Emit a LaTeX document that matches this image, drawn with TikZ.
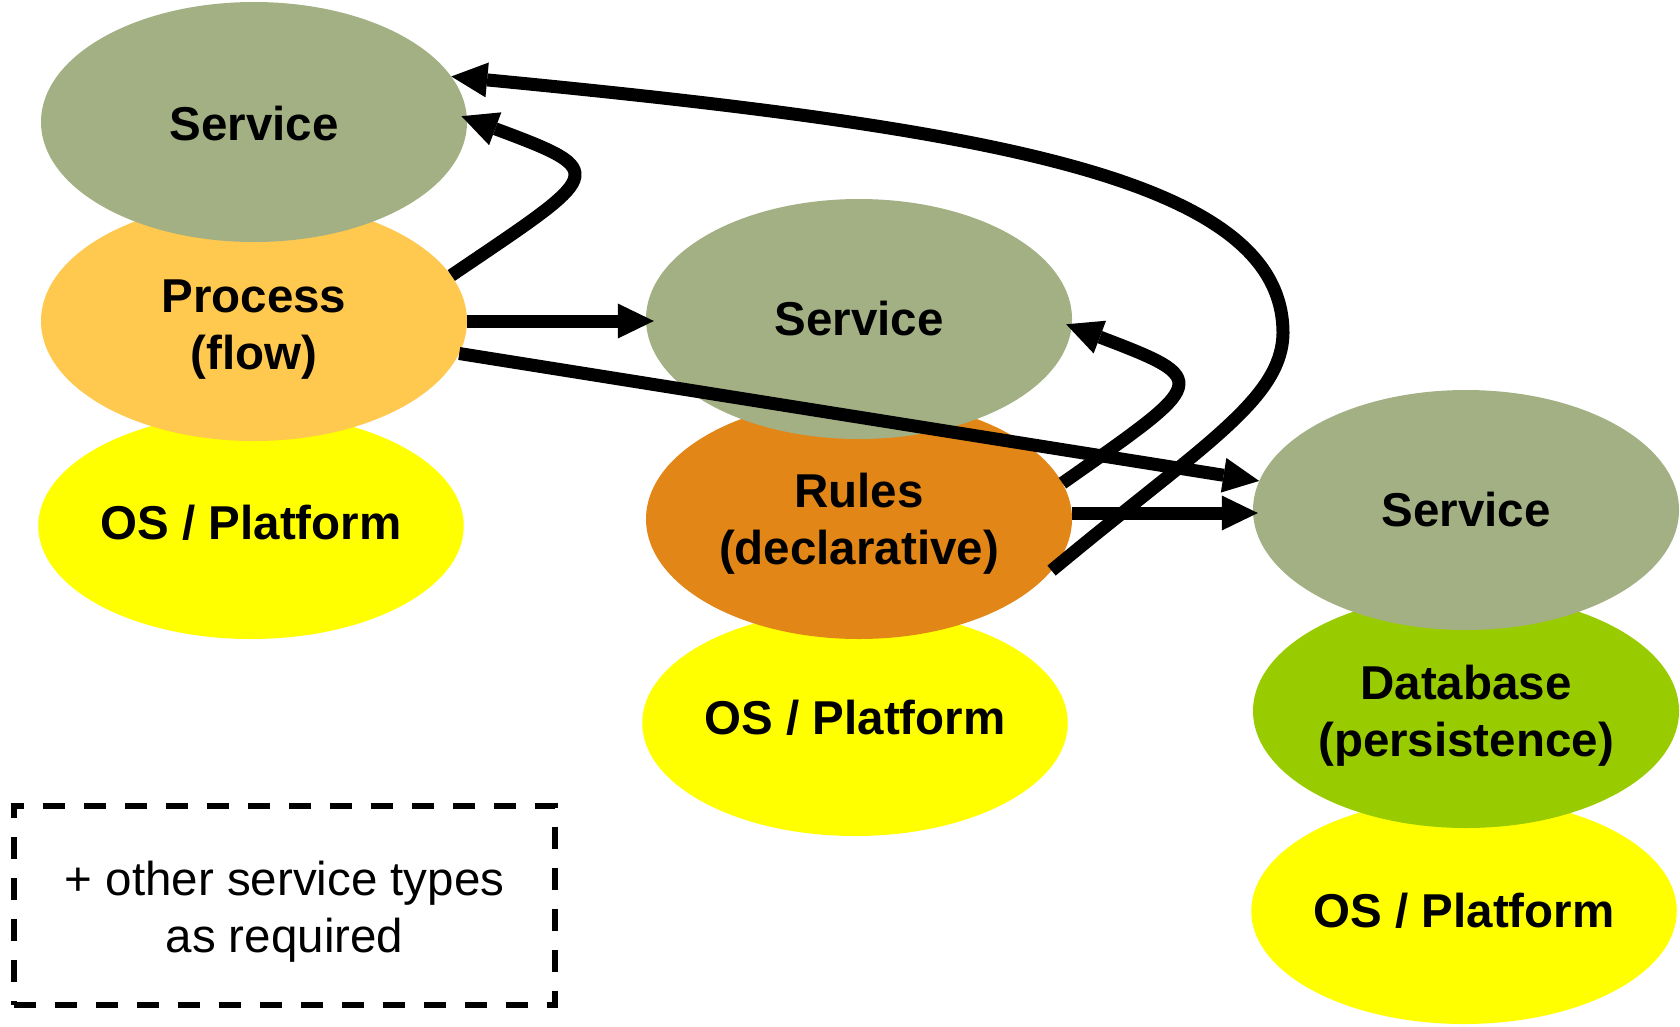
\documentclass[tikz,border=0pt]{standalone}
\usepackage{fontspec}
\setmainfont{Liberation Sans}
\usetikzlibrary{arrows.meta,shapes.geometric}

\definecolor{svcgreen}{HTML}{A2B084}
\definecolor{procorange}{HTML}{FFC84E}
\definecolor{rulesorange}{HTML}{E38618}
\definecolor{dbgreen}{HTML}{99CC00}
\definecolor{osyellow}{HTML}{FFFF00}

% invisible strut that lowers a two-line label inside its node
\newcommand{\lowerby}[1]{\rule{0pt}{#1}}
% shifts a label up by #1 while keeping the box size used for centring
\newcommand{\nudge}[2]{\raisebox{#1}[\height][\depth]{#2}}

\begin{document}
\begin{tikzpicture}[x=1pt,y=-1pt,
  blob/.style={ellipse, inner sep=0pt, align=center,
    minimum width=426pt, minimum height=240pt,
    font=\fontsize{47.5}{57}\selectfont\bfseries},
  osblob/.style={blob, fill=osyellow, minimum width=420pt, minimum height=226pt},
  svcblob/.style={blob, fill=svcgreen},
  flow/.style={line width=13pt,
    -{Triangle[length=36pt,width=35pt,line width=0pt]}},
  notebox/.style={draw, line width=5.5pt, dash pattern=on 22pt off 19pt,
    minimum width=541pt, minimum height=199pt, inner sep=0pt, align=center,
    font=\fontsize{47.5}{57}\selectfont},
]
\useasboundingbox (0,0) rectangle (1680,1026);

% platform layer
\node[osblob] (os1) at (251,526) {\nudge{3pt}{OS / Platform}};
\node[osblob] (os2) at (855,723) {\nudge{5pt}{OS / Platform}};
\node[osblob] (os3) at (1464,911) {OS / Platform};

% middle layer
\node[blob, fill=procorange] (proc) at (254,321) {\lowerby{49pt}Process\\(flow)};
\node[blob, fill=rulesorange] (rules) at (859,519) {\lowerby{44pt}Rules\\(declarative)};
\node[blob, fill=dbgreen, minimum height=234pt] (db) at (1466,711) {\lowerby{44pt}Database\\(persistence)};

% service layer
\node[svcblob] (svc1) at (254,122) {\nudge{-2pt}{Service}};
\node[svcblob] (svc2) at (859,319) {Service};
\node[svcblob] (svc3) at (1466,510) {Service};

% note
\node[notebox] (more) at (284.5,905.5) {\lowerby{46pt}+ other service types\\as required};

% calls between services
\draw[flow, shorten >=-6pt] (proc.13) .. controls +(152,-103) and +(145,54) .. (svc1.1);
\draw[flow, shorten >=-8pt] (proc.east) -- (proc.east -| svc2.west);
\draw[flow] (proc.-9) -- (svc3.172);
\draw[flow, shorten >=-6pt] (rules.10) .. controls +(145,-102) and +(142,54) .. (svc2.-2);
\draw[flow, shorten >=-5pt] ([yshift=6pt]rules.east) -- ([yshift=6pt]rules.east -| svc3.west);
\draw[flow] (rules.-15) .. controls +(150,-125) and +(-1,67) .. (1283,333)
  .. controls +(0,-153) and +(550,53) .. (svc1.13);
\end{tikzpicture}
\end{document}
